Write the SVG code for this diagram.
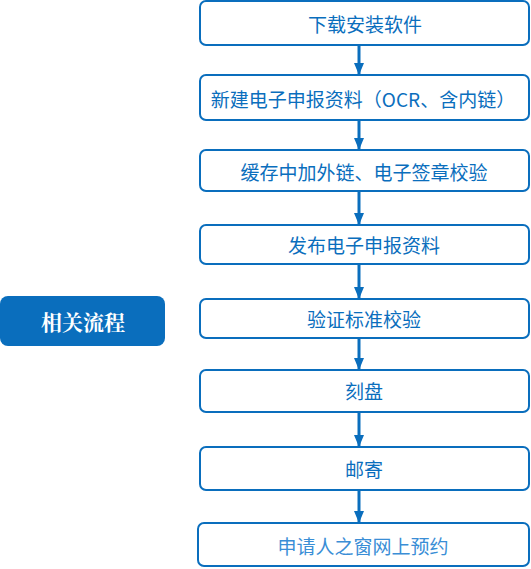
<svg xmlns="http://www.w3.org/2000/svg" width="531" height="569" viewBox="0 0 531 569">
<style>
.box{fill:#fff;stroke:#0a6ebd;stroke-width:2}
.t{font-family:"Noto Sans CJK SC","Liberation Sans",sans-serif;font-size:19px;fill:#0a6ebd;text-anchor:middle;dominant-baseline:central}
.c{stroke:#0a6ebd;stroke-width:3;fill:none}
</style>
<defs>
<marker id="ah" viewBox="0 0 12 10" refX="12" refY="5" markerWidth="12" markerHeight="10" markerUnits="userSpaceOnUse" orient="auto">
<path d="M0,0 L12,5 L0,10 Z" fill="#0a6ebd"/>
</marker>
</defs>
<g id="n0">
<rect x="0" y="296" width="165" height="50" rx="8" fill="#0a6ebd"/>
<text x="83" y="321" font-family="Noto Serif CJK SC,Noto Sans CJK SC,serif" font-size="21" font-weight="bold" fill="#fff" text-anchor="middle" dominant-baseline="central">相关流程</text>
</g>
<g id="n1"><rect class="box" x="200" y="1" width="329" height="44" rx="6"/><text class="t" x="365" y="23">下载安装软件</text></g>
<g id="n2"><rect class="box" x="200" y="75" width="329" height="45" rx="6"/><text class="t" x="363" y="98">新建电子申报资料（OCR、含内链）</text></g>
<g id="n3"><rect class="box" x="200" y="150" width="329" height="41" rx="6"/><text class="t" x="364" y="171">缓存中加外链、电子签章校验</text></g>
<g id="n4"><rect class="box" x="200" y="225" width="329" height="39" rx="6"/><text class="t" x="364" y="244">发布电子申报资料</text></g>
<g id="n5"><rect class="box" x="200" y="299" width="329" height="39" rx="6"/><text class="t" x="364" y="318">验证标准校验</text></g>
<g id="n6"><rect class="box" x="200" y="370" width="329" height="42" rx="6"/><text class="t" x="364" y="390">刻盘</text></g>
<g id="n7"><rect class="box" x="200" y="447" width="329" height="43" rx="6"/><text class="t" x="364" y="468">邮寄</text></g>
<g id="n8"><rect class="box" x="198" y="523" width="331" height="43" rx="6"/><text class="t" x="363" y="545" style="fill:#3a8ed6">申请人之窗网上预约</text></g>
<g id="connectors">
<line class="c" x1="359" y1="46" x2="359" y2="75" marker-end="url(#ah)"/>
<line class="c" x1="359" y1="121" x2="359" y2="150" marker-end="url(#ah)"/>
<line class="c" x1="359" y1="192" x2="359" y2="225" marker-end="url(#ah)"/>
<line class="c" x1="359" y1="265" x2="359" y2="299" marker-end="url(#ah)"/>
<line class="c" x1="359" y1="339" x2="359" y2="370" marker-end="url(#ah)"/>
<line class="c" x1="359" y1="413" x2="359" y2="447" marker-end="url(#ah)"/>
<line class="c" x1="359" y1="491" x2="359" y2="523" marker-end="url(#ah)"/>
</g>
</svg>
